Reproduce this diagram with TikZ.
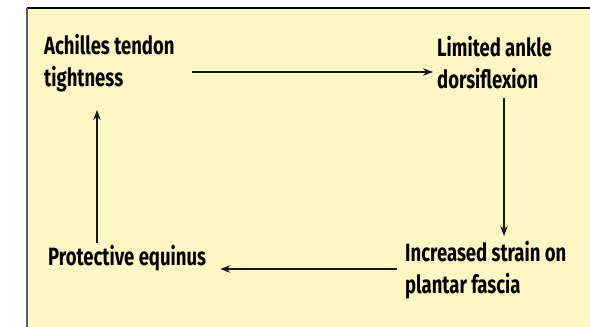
\documentclass[tikz,border=0pt]{standalone}
\usepackage{fontspec}
\setmainfont[FakeStretch=0.74]{Fira Sans}
\usetikzlibrary{arrows.meta,calc}
\definecolor{panel}{HTML}{FFF6C6}
\tikzset{
  lbl/.style={font=\fontsize{25}{32}\selectfont\bfseries, align=left, inner sep=0pt, anchor=base west, text=black},
  arr/.style={draw=black!90, line width=1.2pt, -{Stealth[length=10pt,width=7.5pt]}},
}
\begin{document}
\begin{tikzpicture}[x=1pt,y=-1pt]
\useasboundingbox (0,0) rectangle (590,327);
\fill[white] (0,0) rectangle (590,327);
\fill[panel] (27,8) rectangle (590,327);
\draw[black, line width=1.5pt] (27,8) -- (590,8);
\draw[black!65, line width=2pt] (27,8) -- (27,327);
\node[lbl] (A) at (44,86) {Achilles tendon\\tightness};
\node[lbl] (B) at (437,88) {Limited ankle\\dorsiflexion};
\node[lbl] (C) at (405,293) {Increased strain on\\plantar fascia};
\node[lbl] (D) at (48,265) {Protective equinus};
\coordinate (ab) at (0,72);
\coordinate (cd) at (0,269);
\coordinate (bx) at (504,0);
\coordinate (dx) at (97,0);
\coordinate (ytopB) at (0,98);
\coordinate (ytipC) at (0,236);
\coordinate (ytopD) at (0,243);
\coordinate (ytipA) at (0,110);
\draw[arr] ($(A.east |- ab)+(17,0)$) -- ($(B.west |- ab)+(-4,0)$);
\draw[arr] (bx |- ytopB) -- (bx |- ytipC);
\draw[arr] ($(C.west |- cd)+(-8,0)$) -- ($(D.east |- cd)+(14,0)$);
\draw[arr] (dx |- ytopD) -- (dx |- ytipA);
\end{tikzpicture}
\end{document}
